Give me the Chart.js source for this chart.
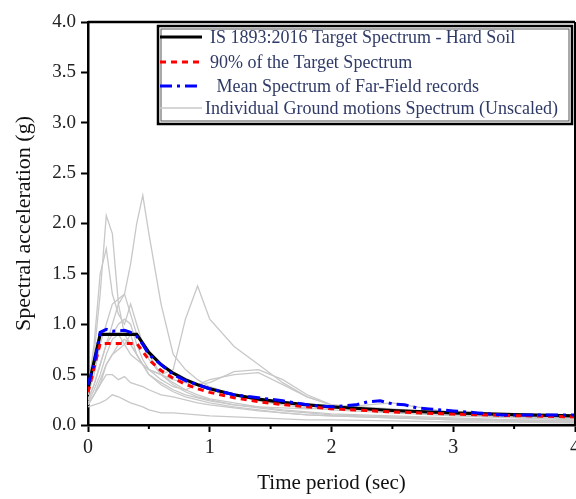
<!DOCTYPE html>
<html>
<head>
<meta charset="utf-8">
<script src="https://cdn.jsdelivr.net/npm/chart.js@4.4.1/dist/chart.umd.min.js"></script>
<style>
  html, body { margin: 0; padding: 0; background: #fff; }
  #wrap { width: 576px; height: 499px; }
</style>
</head>
<body>
<div id="wrap"><canvas id="spec"></canvas></div>
<script>
// ---- data ----
const targetT  = [0, 0.1, 0.4, 0.5, 0.6, 0.7, 0.8, 0.9, 1.0, 1.2, 1.4, 1.6, 1.8, 2.0, 2.5, 3.0, 3.5, 4.0];
const targetSa = [0.36, 0.9, 0.9, 0.72, 0.6, 0.514, 0.45, 0.4, 0.36, 0.3, 0.257, 0.225, 0.2, 0.18, 0.144, 0.12, 0.103, 0.09];
const ninetySa = [0.324, 0.81, 0.81, 0.648, 0.54, 0.463, 0.405, 0.36, 0.324, 0.27, 0.231, 0.203, 0.18, 0.162, 0.13, 0.108, 0.093, 0.081];

const meanT  = [0, 0.05, 0.1, 0.15, 0.2, 0.3, 0.35, 0.4, 0.45, 0.5, 0.6, 0.7, 0.8, 0.9, 1.0, 1.2, 1.4, 1.6, 1.8, 2.0, 2.1, 2.2, 2.3, 2.4, 2.5, 2.6, 2.7, 2.8, 3.0, 3.2, 3.4, 3.6, 4.0];
const meanSa = [0.4, 0.6, 0.92, 0.95, 0.93, 0.94, 0.92, 0.88, 0.8, 0.7, 0.6, 0.5, 0.44, 0.4, 0.36, 0.3, 0.27, 0.24, 0.2, 0.18, 0.19, 0.2, 0.23, 0.24, 0.21, 0.2, 0.17, 0.16, 0.14, 0.12, 0.1, 0.1, 0.1];

// individual records (unscaled)
const gmT = [0, 0.05, 0.1, 0.15, 0.2, 0.25, 0.3, 0.35, 0.4, 0.45, 0.5, 0.6, 0.7, 0.8, 0.9, 1.0, 1.2, 1.4, 1.6, 1.8, 2.0, 2.5, 3.0, 3.5, 4.0];
const gm1  = [0.3, 0.7, 1.3, 2.08, 1.9, 1.2, 0.9, 0.8, 0.7, 0.6, 0.5, 0.4, 0.33, 0.28, 0.25, 0.22, 0.18, 0.15, 0.12, 0.1, 0.09, 0.07, 0.05, 0.04, 0.03];
const gm2  = [0.25, 0.4, 0.6, 0.8, 1.0, 1.2, 1.3, 1.6, 2.0, 2.28, 1.9, 1.2, 0.7, 0.55, 0.45, 0.38, 0.3, 0.24, 0.2, 0.17, 0.15, 0.12, 0.09, 0.07, 0.05];
const gm3  = [0.2, 0.3, 0.4, 0.6, 0.7, 0.75, 0.8, 0.9, 0.7, 0.6, 0.55, 0.5, 0.55, 1.05, 1.38, 1.05, 0.78, 0.6, 0.42, 0.28, 0.2, 0.15, 0.1, 0.08, 0.07];
const gm4  = [0.2, 0.3, 0.45, 0.6, 0.7, 0.8, 0.85, 0.8, 0.7, 0.6, 0.55, 0.5, 0.45, 0.42, 0.4, 0.42, 0.53, 0.55, 0.45, 0.3, 0.2, 0.13, 0.1, 0.08, 0.06];
const gm5  = [0.2, 0.3, 0.4, 0.5, 0.5, 0.45, 0.48, 0.42, 0.4, 0.38, 0.35, 0.3, 0.28, 0.25, 0.22, 0.2, 0.17, 0.14, 0.12, 0.1, 0.09, 0.07, 0.05, 0.04, 0.03];
const gm6  = [0.18, 0.2, 0.22, 0.25, 0.3, 0.28, 0.25, 0.22, 0.2, 0.18, 0.15, 0.12, 0.12, 0.11, 0.1, 0.09, 0.08, 0.07, 0.06, 0.05, 0.05, 0.04, 0.03, 0.03, 0.02];
const gm7  = [0.35, 0.8, 1.5, 1.75, 1.3, 1.1, 1.0, 1.2, 1.0, 0.8, 0.7, 0.5, 0.4, 0.33, 0.28, 0.25, 0.2, 0.17, 0.14, 0.12, 0.1, 0.08, 0.06, 0.05, 0.04];
const gm8  = [0.3, 0.5, 0.8, 1.0, 1.2, 1.25, 1.3, 1.1, 0.9, 0.8, 0.65, 0.5, 0.42, 0.35, 0.3, 0.26, 0.22, 0.18, 0.15, 0.13, 0.11, 0.09, 0.07, 0.05, 0.04];
const gm9  = [0.25, 0.4, 0.6, 0.8, 0.9, 1.0, 1.05, 1.0, 0.8, 0.65, 0.55, 0.45, 0.38, 0.35, 0.4, 0.45, 0.5, 0.52, 0.4, 0.28, 0.2, 0.16, 0.11, 0.09, 0.07];
const gm10 = [0.22, 0.35, 0.5, 0.7, 0.85, 0.9, 0.8, 0.7, 0.65, 0.6, 0.5, 0.42, 0.35, 0.3, 0.27, 0.24, 0.2, 0.18, 0.17, 0.16, 0.17, 0.22, 0.12, 0.09, 0.07];
const gmAll = [gm1, gm2, gm3, gm4, gm5, gm6, gm7, gm8, gm9, gm10];

const labels = [
  'IS 1893:2016 Target Spectrum - Hard Soil',
  '90% of the Target Spectrum',
  ' Mean Spectrum of Far-Field records',
  'Individual Ground motions Spectrum (Unscaled)'
];

function pts(xs, ys) { return xs.map((x, i) => ({ x: x, y: ys[i] })); }

const SERIF = '"Liberation Serif", "DejaVu Serif", serif';

const datasets = [
  { label: labels[0], data: pts(targetT, targetSa), borderColor: '#000', borderWidth: 3.2, order: 2 },
  { label: labels[1], data: pts(targetT, ninetySa), borderColor: '#ff0000', borderWidth: 3, borderDash: [6, 5], order: 1 },
  { label: labels[2], data: pts(meanT, meanSa), borderColor: '#0000ff', borderWidth: 3, borderDash: [12, 5, 3, 5], order: 0 }
];
gmAll.forEach(g => {
  datasets.push({ label: labels[3], data: pts(gmT, g), borderColor: '#c8c8c8', borderWidth: 1.3, order: 3 });
});

// frame (top + right) and minor x ticks
const framePlugin = {
  id: 'frame',
  afterDraw(chart) {
    const { ctx, chartArea: a } = chart;
    ctx.save();
    ctx.strokeStyle = '#000';
    ctx.lineWidth = 2.5;
    ctx.beginPath();
    ctx.moveTo(a.left, a.top); ctx.lineTo(a.right, a.top);
    ctx.stroke();
    ctx.lineWidth = 2;
    ctx.beginPath();
    ctx.moveTo(a.right, a.top); ctx.lineTo(a.right, a.bottom);
    ctx.stroke();
    // minor ticks at half seconds
    const xs = chart.scales.x;
    ctx.lineWidth = 2;
    [0.5, 1.5, 2.5, 3.5].forEach(v => {
      const px = xs.getPixelForValue(v);
      ctx.beginPath();
      ctx.moveTo(px, a.bottom); ctx.lineTo(px, a.bottom + 4);
      ctx.stroke();
    });
    ctx.restore();
  }
};

// legend box drawn inside the plot
const legendPlugin = {
  id: 'boxLegend',
  afterDraw(chart) {
    const { ctx } = chart;
    const x0 = 158, y0 = 26, x1 = 572, y1 = 124;
    ctx.save();
    ctx.fillStyle = '#fff';
    ctx.fillRect(x0, y0, x1 - x0, y1 - y0);
    ctx.strokeStyle = '#000';
    ctx.lineWidth = 2.5;
    ctx.strokeRect(x0, y0, x1 - x0, y1 - y0);
    ctx.lineWidth = 1;
    ctx.strokeStyle = '#555';
    ctx.strokeRect(x0 + 3, y0 + 3, x1 - x0 - 6, y1 - y0 - 6);

    const rows = [37, 62, 86, 108];
    const textX = [210, 210, 212, 205];
    const samples = [datasets[0], datasets[1], datasets[2], datasets[3]];
    ctx.font = '18px ' + SERIF;
    ctx.textBaseline = 'middle';
    rows.forEach((y, i) => {
      const d = samples[i];
      ctx.beginPath();
      ctx.strokeStyle = d.borderColor;
      ctx.lineWidth = d.borderWidth;
      ctx.setLineDash(d.borderDash || []);
      ctx.moveTo(160, y); ctx.lineTo(202, y);
      ctx.stroke();
      ctx.setLineDash([]);
      ctx.fillStyle = '#2f3a66';
      ctx.fillText(d.label, textX[i], y + 1, 566 - textX[i]);
    });
    ctx.restore();
  }
};

new Chart(document.getElementById('spec'), {
  type: 'line',
  data: { datasets: datasets },
  options: {
    responsive: true,
    maintainAspectRatio: false,
    animation: false,
    layout: { padding: { top: 22, right: 1, left: 0, bottom: 0 } },
    elements: { point: { radius: 0 }, line: { tension: 0, fill: false } },
    plugins: { legend: { display: false }, tooltip: { enabled: false } },
    scales: {
      x: {
        type: 'linear', min: 0, max: 4,
        afterFit(s) { s.height = 74; s.paddingRight = 0; },
        border: { color: '#000', width: 2.5 },
        grid: { drawOnChartArea: false, drawTicks: true, tickLength: 7, tickWidth: 2, tickColor: '#000' },
        ticks: {
          stepSize: 1, color: '#222', padding: 4,
          font: { family: SERIF, size: 20 },
          callback: v => String(v)
        },
        title: { display: true, text: 'Time period (sec)', color: '#111',
                 font: { family: SERIF, size: 21 }, padding: { top: 0, bottom: 3 } }
      },
      y: {
        type: 'linear', min: 0, max: 4,
        afterFit(s) { s.width = 88; },
        border: { color: '#000', width: 2.5 },
        grid: { drawOnChartArea: false, drawTicks: true, tickLength: 7, tickWidth: 2, tickColor: '#000' },
        ticks: {
          stepSize: 0.5, color: '#222', padding: 5,
          font: { family: SERIF, size: 19 },
          callback: v => v.toFixed(1)
        },
        title: { display: true, text: 'Spectral acceleration (g)', color: '#111',
                 font: { family: SERIF, size: 22 }, padding: { top: 11, bottom: 0 } }
      }
    }
  },
  plugins: [framePlugin, legendPlugin]
});
</script>
</body>
</html>
